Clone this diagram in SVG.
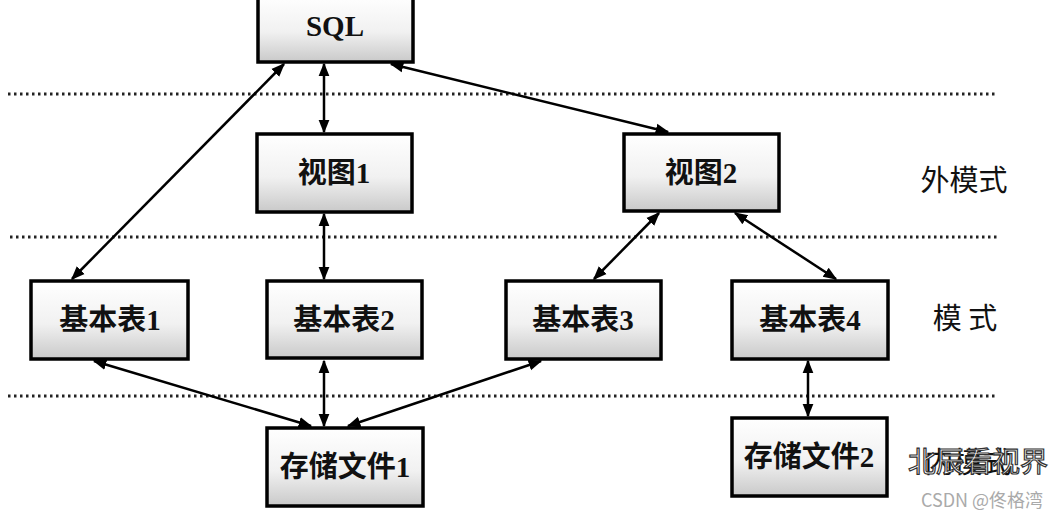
<svg xmlns="http://www.w3.org/2000/svg" width="1056" height="518" viewBox="0 0 1056 518">
<defs>
<linearGradient id="g" x1="0" y1="0" x2="0" y2="1">
<stop offset="0" stop-color="#ffffff"/>
<stop offset="0.55" stop-color="#f1f1f1"/>
<stop offset="1" stop-color="#c9c9c9"/>
</linearGradient>
<marker id="a" viewBox="0 0 10 10" refX="9" refY="5" markerWidth="5.5" markerHeight="5.5" orient="auto-start-reverse" markerUnits="strokeWidth">
<path d="M0,1 L10,5 L0,9 Z" fill="#000"/>
</marker>
</defs>
<style>
.box{fill:url(#g);stroke:#000;stroke-width:3.5}
.t{font-family:"Liberation Serif","Noto Sans CJK SC",serif;font-weight:700;font-size:29px;fill:#111;text-anchor:middle;dominant-baseline:central}
.lab{font-family:"Noto Sans CJK SC",sans-serif;font-size:29px;fill:#111;text-anchor:middle;dominant-baseline:central}
.dot{stroke:#222;stroke-width:3;stroke-dasharray:2.5 3.5}
.c{stroke:#000;stroke-width:2.5;fill:none;marker-start:url(#a);marker-end:url(#a)}
</style>
<rect width="1056" height="518" fill="#fff"/>
<g id="separators">
<line class="dot" x1="8" y1="94" x2="996" y2="94"/>
<line class="dot" x1="10" y1="237" x2="998" y2="237"/>
<line class="dot" x1="8" y1="396" x2="996" y2="396"/>
</g>
<g id="connectors">
<line class="c" x1="284" y1="64" x2="72" y2="279"/>
<line class="c" x1="324" y1="64" x2="324" y2="132"/>
<line class="c" x1="391" y1="64" x2="668" y2="132"/>
<line class="c" x1="324" y1="214" x2="324" y2="279"/>
<line class="c" x1="659" y1="213" x2="594" y2="279"/>
<line class="c" x1="735" y1="213" x2="836" y2="279"/>
<line class="c" x1="94" y1="361" x2="311" y2="426"/>
<line class="c" x1="324" y1="361" x2="324" y2="426"/>
<line class="c" x1="541" y1="361" x2="348" y2="426"/>
<line class="c" x1="808" y1="361" x2="808" y2="416"/>
</g>
<g id="sql"><rect class="box" x="258" y="-5" width="155" height="67"/><text class="t" x="335" y="26" font-size="31">SQL</text></g>
<g id="view1"><rect class="box" x="257" y="134" width="155" height="78"/><text class="t" x="334" y="173">视图1</text></g>
<g id="view2"><rect class="box" x="624" y="134" width="155" height="77"/><text class="t" x="701" y="173">视图2</text></g>
<g id="table1"><rect class="box" x="31" y="281" width="157" height="78"/><text class="t" x="110" y="320">基本表1</text></g>
<g id="table2"><rect class="box" x="267" y="281" width="155" height="77"/><text class="t" x="344" y="320">基本表2</text></g>
<g id="table3"><rect class="box" x="506" y="281" width="155" height="78"/><text class="t" x="583" y="320">基本表3</text></g>
<g id="table4"><rect class="box" x="732" y="281" width="156" height="78"/><text class="t" x="810" y="320">基本表4</text></g>
<g id="file1"><rect class="box" x="267" y="428" width="156" height="78"/><text class="t" x="345" y="467">存储文件1</text></g>
<g id="file2"><rect class="box" x="732" y="418" width="155" height="78"/><text class="t" x="809" y="457">存储文件2</text></g>
<g id="labels">
<text class="lab" x="964" y="178">外模式</text>
<text class="lab" x="965" y="316">模 式</text>
<text class="lab" x="968" y="460">内模式</text>
</g>
<g id="watermark">
<text x="978" y="472" font-family="Noto Sans CJK SC,sans-serif" font-size="28" text-anchor="middle" fill="#fff" stroke="#333" stroke-width="1.2">北辰看视界</text>
<text x="982" y="507" font-family="Noto Sans CJK SC,sans-serif" font-size="18" text-anchor="middle" fill="#aaa">CSDN @佟格湾</text>
</g>
</svg>
